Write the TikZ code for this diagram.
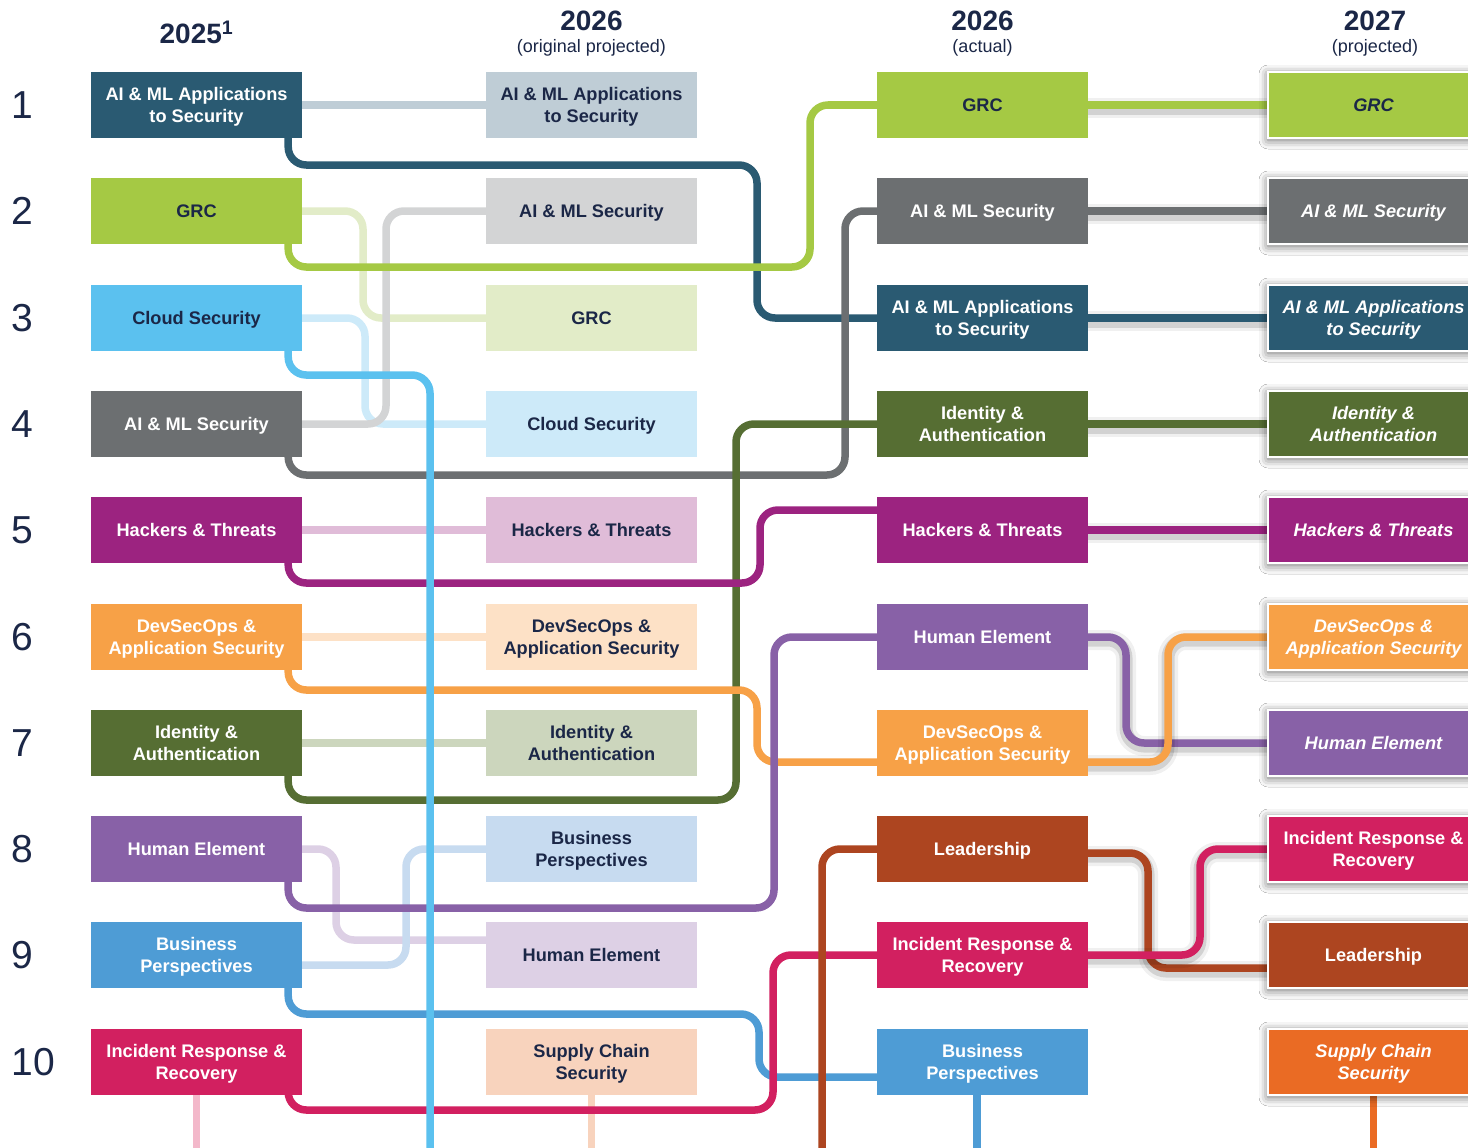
\documentclass[tikz,border=0pt]{standalone}
\usepackage{fontspec}
\setmainfont{Liberation Sans}
\usetikzlibrary{backgrounds, shadows.blur}

\definecolor{navy}{HTML}{1B2747}
\definecolor{aiapp}{HTML}{2A5A72}   \definecolor{aiappL}{HTML}{BFCDD6}
\definecolor{grc}{HTML}{A5C944}     \definecolor{grcL}{HTML}{E2ECC8}
\definecolor{cloud}{HTML}{5BC1EF}   \definecolor{cloudL}{HTML}{CDEAF9}
\definecolor{aisec}{HTML}{6C6F71}   \definecolor{aisecL}{HTML}{D3D4D5}
\definecolor{hack}{HTML}{9C2380}    \definecolor{hackL}{HTML}{E0BCD8}
\definecolor{devsec}{HTML}{F7A147}  \definecolor{devsecL}{HTML}{FDE1C6}
\definecolor{ident}{HTML}{566E33}   \definecolor{identL}{HTML}{CCD6BD}
\definecolor{human}{HTML}{8861A7}   \definecolor{humanL}{HTML}{DDD0E5}
\definecolor{biz}{HTML}{4E9CD5}     \definecolor{bizL}{HTML}{C7DBF0}
\definecolor{incid}{HTML}{D22060}   \definecolor{incidL}{HTML}{F3B8CA}
\definecolor{lead}{HTML}{AD4520}
\definecolor{supply}{HTML}{EA6B24}  \definecolor{supplyL}{HTML}{F8D3BD}

\newcommand{\boxtxt}{\fontsize{18.2pt}{22.5pt}\selectfont\bfseries}

\tikzstyle{tp1} = [rectangle, minimum width=211pt, minimum height=66pt, inner sep=0pt, text depth=0pt, align=center, text=white, font=\boxtxt]
\tikzstyle{tp2} = [tp1, text=navy]
\tikzstyle{tp4} = [tp1, draw=white, line width=1.5pt, font=\boxtxt\itshape, blur shadow={shadow xshift=0pt, shadow yshift=-2pt, shadow blur radius=9pt, shadow opacity=60}]
\tikzstyle{yr} = [font=\fontsize{28pt}{30pt}\selectfont\bfseries, text=navy]
\tikzstyle{sub} = [font=\fontsize{18pt}{20pt}\selectfont, text=navy]
\tikzstyle{num} = [font=\fontsize{39pt}{40pt}\selectfont, text=navy, anchor=west]
\tikzstyle{ln} = [line width=7.5pt, rounded corners=18pt]
\tikzstyle{ln2} = [ln, preaction={draw=black, line width=20pt, opacity=0.06, transform canvas={yshift=-3pt}}, preaction={draw=black, line width=13pt, opacity=0.12, transform canvas={yshift=-3pt}}]

\begin{document}
\begin{tikzpicture}[x=1pt, y=-1pt]
\useasboundingbox (0,0) rectangle (1468,1148);

%headings
\node (h25) [yr] at (196.5,32) {2025\textsuperscript{1}};
\node (h26o) [yr] at (591.5,21) {2026};
\node (s26o) [sub] at (591.5,47.5) {(original projected)};
\node (h26a) [yr] at (982.5,21) {2026};
\node (s26a) [sub] at (982.5,47.5) {(actual)};
\node (h27) [yr] at (1375,21) {2027};
\node (s27) [sub] at (1375,47.5) {(projected)};

%ranks
\foreach \n/\y in {1/105, 2/211, 3/318, 4/424, 5/530, 6/637, 7/743, 8/849, 9/955, 10/1062}
  \node (n\n) [num] at (8,\y) {\n};

%2025
\node (aiapp25) [tp1, fill=aiapp] at (196.5,105) {AI \& ML Applications\\to Security};
\node (grc25) [tp1, fill=grc, text=navy] at (196.5,211) {GRC};
\node (cloud25) [tp1, fill=cloud, text=navy] at (196.5,318) {Cloud Security};
\node (aisec25) [tp1, fill=aisec] at (196.5,424) {AI \& ML Security};
\node (hack25) [tp1, fill=hack] at (196.5,530) {Hackers \& Threats};
\node (devsec25) [tp1, fill=devsec] at (196.5,637) {DevSecOps \&\\Application Security};
\node (ident25) [tp1, fill=ident] at (196.5,743) {Identity \&\\Authentication};
\node (human25) [tp1, fill=human] at (196.5,849) {Human Element};
\node (biz25) [tp1, fill=biz] at (196.5,955) {Business\\Perspectives};
\node (incid25) [tp1, fill=incid] at (196.5,1062) {Incident Response \&\\Recovery};

%2026 original projected
\node (aiappO) [tp2, fill=aiappL] at (591.5,105) {AI \& ML Applications\\to Security};
\node (aisecO) [tp2, fill=aisecL] at (591.5,211) {AI \& ML Security};
\node (grcO) [tp2, fill=grcL] at (591.5,318) {GRC};
\node (cloudO) [tp2, fill=cloudL] at (591.5,424) {Cloud Security};
\node (hackO) [tp2, fill=hackL] at (591.5,530) {Hackers \& Threats};
\node (devsecO) [tp2, fill=devsecL] at (591.5,637) {DevSecOps \&\\Application Security};
\node (identO) [tp2, fill=identL] at (591.5,743) {Identity \&\\Authentication};
\node (bizO) [tp2, fill=bizL] at (591.5,849) {Business\\Perspectives};
\node (humanO) [tp2, fill=humanL] at (591.5,955) {Human Element};
\node (supplyO) [tp2, fill=supplyL] at (591.5,1062) {Supply Chain\\Security};

%2026 actual
\node (grcA) [tp1, fill=grc, text=navy] at (982.5,105) {GRC};
\node (aisecA) [tp1, fill=aisec] at (982.5,211) {AI \& ML Security};
\node (aiappA) [tp1, fill=aiapp] at (982.5,318) {AI \& ML Applications\\to Security};
\node (identA) [tp1, fill=ident] at (982.5,424) {Identity \&\\Authentication};
\node (hackA) [tp1, fill=hack] at (982.5,530) {Hackers \& Threats};
\node (humanA) [tp1, fill=human] at (982.5,637) {Human Element};
\node (devsecA) [tp1, fill=devsec] at (982.5,743) {DevSecOps \&\\Application Security};
\node (leadA) [tp1, fill=lead] at (982.5,849) {Leadership};
\node (incidA) [tp1, fill=incid] at (982.5,955) {Incident Response \&\\Recovery};
\node (bizA) [tp1, fill=biz] at (982.5,1062) {Business\\Perspectives};

%2027 projected
\node (grc27) [tp4, fill=grc, text=navy] at (1373.5,105) {GRC};
\node (aisec27) [tp4, fill=aisec] at (1373.5,211) {AI \& ML Security};
\node (aiapp27) [tp4, fill=aiapp] at (1373.5,318) {AI \& ML Applications\\to Security};
\node (ident27) [tp4, fill=ident] at (1373.5,424) {Identity \&\\Authentication};
\node (hack27) [tp4, fill=hack] at (1373.5,530) {Hackers \& Threats};
\node (devsec27) [tp4, fill=devsec] at (1373.5,637) {DevSecOps \&\\Application Security};
\node (human27) [tp4, fill=human] at (1373.5,743) {Human Element};
\node (incid27) [tp4, fill=incid, font=\boxtxt] at (1373.5,849) {Incident Response \&\\Recovery};
\node (lead27) [tp4, fill=lead, font=\boxtxt] at (1373.5,955) {Leadership};
\node (supply27) [tp4, fill=supply] at (1373.5,1062) {Supply Chain\\Security};

%loose ends
\coordinate (incidEnd) at (196.5,1170);
\coordinate (supplyEnd) at (591.5,1170);
\coordinate (cloudEnd) at (430,1170);
\coordinate (leadEnd) at (822,1170);
\coordinate (bizEnd) at (977,1170);
\coordinate (supply27End) at (1373.5,1170);

\begin{scope}[on background layer]
\fill [white] (0,0) rectangle (1468,1148);

%2025 -> 2026 original
\draw [ln, aiappL] (aiapp25.east) -- (aiappO.west);
\draw [ln, grcL] (grc25.east) -- (363,211) |- (grcO.west);
\draw [ln, cloudL] (cloud25.east) -- (365,318) |- (cloudO.west);
\draw [ln, aisecL] (aisec25.east) -- (386,424) |- (aisecO.west);
\draw [ln, hackL] (hack25.east) -- (hackO.west);
\draw [ln, devsecL] (devsec25.east) -- (devsecO.west);
\draw [ln, identL] (ident25.east) -- (identO.west);
\draw [ln, humanL] (human25.east) -- (336,849) |- ([yshift=15pt]humanO.west);
\draw [ln, bizL] ([yshift=-10pt]biz25.east) -- (406,965) |- (bizO.west);
\draw [ln, incidL] (incid25.south) -- (incidEnd);
\draw [ln, supplyL] (supplyO.south) -- (supplyEnd);

%2025 -> 2026 actual
\draw [ln, aiapp] ([xshift=-14pt]aiapp25.south east) |- (757,165) |- (aiappA.west);
\draw [ln, grc] ([xshift=-14pt]grc25.south east) |- (810,267) |- (grcA.west);
\draw [ln, aisec] ([xshift=-14pt]aisec25.south east) |- (845,475) |- (aisecA.west);
\draw [ln, ident] ([xshift=-14pt]ident25.south east) |- (736,800) |- (identA.west);
\draw [ln, hack] ([xshift=-14pt]hack25.south east) |- (760,583) |- ([yshift=20pt]hackA.west);
\draw [ln, devsec] ([xshift=-14pt]devsec25.south east) |- (757,690) |- ([yshift=-19pt]devsecA.west);
\draw [ln, human] ([xshift=-14pt]human25.south east) |- (774,908) |- (humanA.west);
\draw [ln, biz] ([xshift=-14pt]biz25.south east) |- (759,1014) |- ([yshift=-15pt]bizA.west);
\draw [ln, incid] ([xshift=-14pt]incid25.south east) |- (773,1110) |- (incidA.west);
\draw [ln, lead] (leadA.west) -| (leadEnd);
\draw [ln, cloud] ([xshift=-14pt]cloud25.south east) |- (430,375) -- (cloudEnd);

%2026 actual -> 2027
\draw [ln2, grc] (grcA.east) -- (grc27.west);
\draw [ln2, aisec] (aisecA.east) -- (aisec27.west);
\draw [ln2, aiapp] (aiappA.east) -- (aiapp27.west);
\draw [ln2, ident] (identA.east) -- (ident27.west);
\draw [ln2, hack] (hackA.east) -- (hack27.west);
\draw [ln2, human] (humanA.east) -- (1126,637) |- (human27.west);
\draw [ln2, devsec] ([yshift=-19pt]devsecA.east) -- (1168,762) |- (devsec27.west);
\draw [ln2, lead] ([yshift=-4pt]leadA.east) -- (1148,853) |- ([yshift=-13pt]lead27.west);
\draw [ln2, incid] (incidA.east) -- (1200,955) |- (incid27.west);
\draw [ln, biz] ([xshift=-5.5pt]bizA.south) -- (bizEnd);
\draw [ln, supply] (supply27.south) -- (supply27End);
\end{scope}

\end{tikzpicture}
\end{document}
